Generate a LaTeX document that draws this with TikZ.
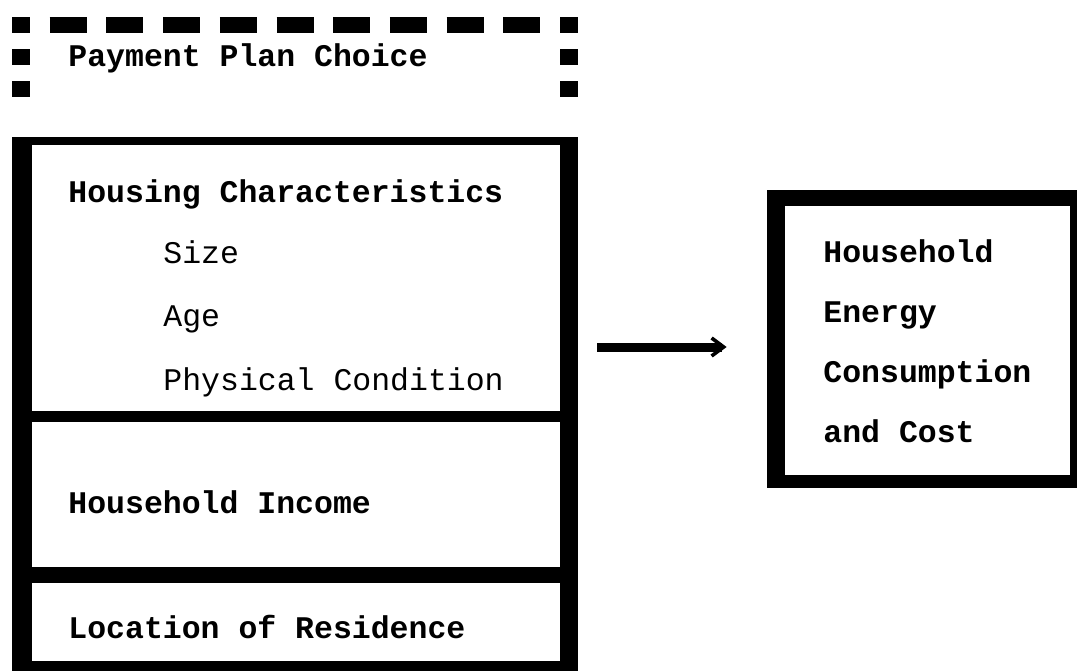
\documentclass[tikz,border=0pt]{standalone}
\usepackage{fontspec}
\setmonofont{Liberation Mono}
\usepackage{tikz}
\usetikzlibrary{arrows.meta,fit}

\tikzset{
  heading/.style={anchor=base west, inner sep=0pt, font=\ttfamily\bfseries\fontsize{15.75}{18}\selectfont},
  item/.style={anchor=base west, inner sep=0pt, font=\ttfamily\fontsize{15.75}{18}\selectfont},
  blackbox/.style={fill=black, inner sep=0pt},
  cell/.style={fill=white, inner sep=0pt},
  dashrow/.style={line width=8pt, dash pattern=on 18.5pt off 9.85pt, dash phase=9.5pt},
  dashcol/.style={line width=9pt, dash pattern=on 8pt off 8pt},
  flow/.style={line width=4.5pt, -{Straight Barb[length=6pt, width=9pt, line width=1.8pt]}}
}

\begin{document}
\begin{tikzpicture}[x=0.5pt, y=-0.5pt]
        \useasboundingbox (0,0) rectangle (1077,670);

        % optional plan, dashed
        \draw[dashrow] (12,25) -- (578,25);
        \draw[dashcol] (21,49) -- (21,97);
        \draw[dashcol] (569,49) -- (569,97);
        \node (plan) [heading] at (68,66) {Payment Plan Choice};

        % factors
        \node (frame) [blackbox, fit={(12,137) (578,690)}] {};
        \node (housing) [cell, fit={(32,145) (560,411)}] {};
        \node (income) [cell, fit={(32,422) (560,567)}] {};
        \node (location) [cell, fit={(32,583) (560,661)}] {};

        \node (housingtitle) [heading] at (68,202) {Housing Characteristics};
        \node (size) [item] at (163,263) {Size};
        \node (age) [item] at (163,326) {Age};
        \node (condition) [item] at (163,390) {Physical Condition};
        \node (incometitle) [heading] at (68,513) {Household Income};
        \node (locationtitle) [heading] at (68,638) {Location of Residence};

        % outcome
        \node (result) [blackbox, fit={(767,190) (1090,488)}] {};
        \node (resultin) [cell, fit={(785,206) (1070,475)}] {};
        \node (household) [heading] at (823,262) {Household};
        \node (energy) [heading] at (823,322) {Energy};
        \node (consumption) [heading] at (823,382) {Consumption};
        \node (cost) [heading] at (823,442) {and Cost};

        \draw[flow, shorten <=9.5pt, shorten >=20pt] (frame.east |- 0,347) -- (result.west |- 0,347);
    \end{tikzpicture}
\end{document}
